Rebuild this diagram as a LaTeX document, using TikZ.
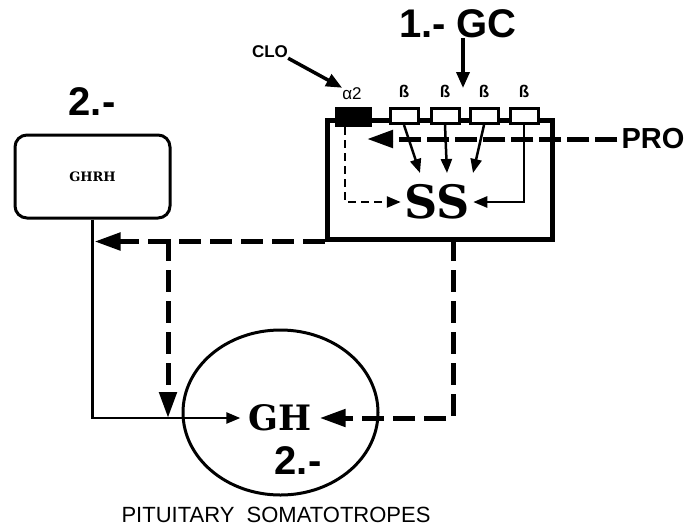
\documentclass[tikz,border=0pt]{standalone}
\usepackage{fontspec}
\setsansfont{Liberation Sans}
\newfontfamily\slabfont{DejaVu Serif}
\usetikzlibrary{arrows.meta, positioning, shapes.geometric}

\begin{document}
\begin{tikzpicture}[x=1pt, y=-1pt,
    bignum/.style={font=\sffamily\bfseries\fontsize{40}{40}\selectfont, inner sep=0pt},
    lbl/.style={font=\sffamily\bfseries\fontsize{17}{17}\selectfont, inner sep=0pt},
    tinylbl/.style={font=\sffamily\bfseries\fontsize{17}{17}\selectfont, inner sep=0pt},
    hormone/.style={font=\slabfont\bfseries\fontsize{#1}{#1}\selectfont},
    wall/.style={draw, line width=5pt},
    recep/.style={draw, line width=3pt, fill=white, minimum width=28pt, minimum height=15pt, inner sep=0pt},
    feed/.style={line width=5pt, dash pattern=on 22pt off 9pt},
    thinline/.style={line width=2.5pt},
    bigtip/.style={-{Triangle[length=26pt,width=17pt]}},
    smalltip/.style={-{Triangle[length=14pt,width=11pt]}}]
    \useasboundingbox (0,0) rectangle (695,528);

    % somatostatin neuron
    \node[wall, minimum width=225pt, minimum height=119pt] (cell) at (439.5,179.5) {};
    \node[fill=black, minimum width=37pt, minimum height=20pt, inner sep=0pt] (a2) at (353,117) {};
    \foreach \x [count=\i] in {404,445,484,524} {
        \node[recep] (b\i) at (\x,116) {};
        \node[tinylbl] (lb\i) at (\x,91) {ß};
    }
    \node[hormone=46] (ss) at (437,202) {SS};

    % labels on top
    \node[bignum] (gc) at (458,24) {1.- GC};
    \node[lbl] (clo) at (270,52) {CLO};
    \node[font=\sffamily\fontsize{17}{17}\selectfont, inner sep=0pt] (a2lbl) at (352,94) {α2};
    \node[font=\sffamily\bfseries\fontsize{29}{29}\selectfont, inner sep=0pt] (pro) at (653,139) {PRO};
    \coordinate (gcend) at (463,88);
    \coordinate (protip) at (367,139);

    \draw[line width=3.5pt, -{Triangle[length=16pt,width=13pt]}] (clo.south east) -- (a2lbl.north west);
    \draw[line width=3.5pt, -{Triangle[length=16pt,width=13pt]}] (gc.south -| gcend) -- (gcend);
    \draw[line width=5pt, dash pattern=on 22pt off 6pt, bigtip] ([xshift=-4pt]pro.west) -- (protip);

    % receptor signals to SS
    \coordinate (s1) at (420,173);
    \coordinate (s2) at (447,173);
    \coordinate (s3) at (473,173);
    \draw[thinline, smalltip] (b1.south) -- (s1);
    \draw[thinline, smalltip] (b2.south) -- (s2);
    \draw[thinline, smalltip] (b3.south) -- (s3);
    \draw[thinline, smalltip] (b4.south) |- (ss.east);
    \draw[thinline, dash pattern=on 8pt off 5pt, smalltip] ([xshift=-8pt]a2.south) |- (ss.west);

    % hypothalamic GHRH
    \node[draw, line width=3pt, rounded corners=12pt, minimum width=155pt, minimum height=83pt, hormone=13] (ghrh) at (92.5,176.5) {GHRH};
    \node[bignum] (n2a) at (92,102) {2.-};

    % pituitary
    \node[draw, ellipse, line width=3pt, minimum width=195pt, minimum height=165pt] (pit) at (280.5,412.5) {};
    \node[hormone=35, inner sep=8pt] (gh) at (280,418) {GH};
    \node[bignum] (n2b) at (298,461) {2.-};
    \node[font=\sffamily\fontsize{22}{22}\selectfont, inner sep=0pt] (pitlbl) at (276,515) {PITUITARY\ \ SOMATOTROPES};

    % connections
    \coordinate (k) at (168,239);
    \coordinate (r) at (453,239);
    \draw[thinline, smalltip] (ghrh.south) |- (gh.west);
    \draw[feed, bigtip] (cell.south west) -- ([xshift=2pt]ghrh.south |- cell.south west);
    \draw[feed, bigtip] (k) -- (k |- gh.west);
    \draw[feed, bigtip] (r) |- (gh.east);
\end{tikzpicture}
\end{document}
